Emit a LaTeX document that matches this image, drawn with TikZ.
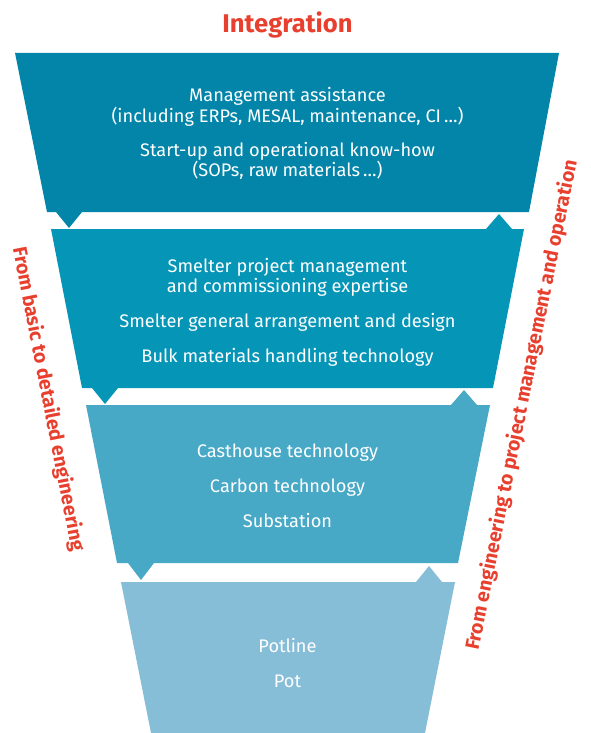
\documentclass[tikz,border=0pt]{standalone}
\usepackage{fontspec}
\setmainfont{Fira Sans}
\definecolor{bandA}{HTML}{0285A9}
\definecolor{bandB}{HTML}{0595B7}
\definecolor{bandC}{HTML}{48A9C7}
\definecolor{bandD}{HTML}{86BDD7}
\definecolor{accent}{HTML}{E8402F}
\begin{document}
\begin{tikzpicture}[x=1pt,y=-1pt,
  body/.style={anchor=base,text=white,inner sep=0pt,font=\fontsize{18.2}{20}\selectfont},
  side/.style={text=accent,inner sep=0pt,font=\fontsize{19.6}{22}\selectfont\bfseries},
  title/.style={anchor=base,text=accent,inner sep=0pt,font=\fontsize{25.6}{28}\selectfont\bfseries}]
\useasboundingbox (0,0) rectangle (590,733);
% bands
\fill[bandA] (15,53) -- (559,53) -- (529,212) -- (82,212) -- (69,228) -- (56,212) -- (47,212) -- cycle;
\fill[bandB] (51,229) -- (486,229) -- (499,214) -- (512,229) -- (524,229) -- (493,388) -- (118,388) -- (105,404) -- (92,388) -- (82,388) -- cycle;
\fill[bandC] (86,405) -- (451,405) -- (464,390) -- (477,405) -- (490,405) -- (458,563) -- (154,563) -- (141,580) -- (128,563) -- (117,563) -- cycle;
\fill[bandD] (121,582) -- (416,582) -- (429,566) -- (442,582) -- (455,582) -- (425,733) -- (151,733) -- cycle;
% title
\node[title] (title) at (287.5,33) {Integration};
% band texts
\node[body] (a1) at (287.5,102) {Management assistance};
\node[body] (a2) at (287.5,122) {(including ERPs, MESAL, maintenance, CI\,…)};
\node[body] (a3) at (287.5,156) {Start-up and operational know-how};
\node[body] (a4) at (287.5,176) {(SOPs, raw materials\,…)};
\node[body] (b1) at (287.5,272) {Smelter project management};
\node[body] (b2) at (287.5,292) {and commissioning expertise};
\node[body] (b3) at (287.5,327) {Smelter general arrangement and design};
\node[body] (b4) at (287.5,362) {Bulk materials handling technology};
\node[body] (c1) at (287.5,457) {Casthouse technology};
\node[body] (c2) at (287.5,492) {Carbon technology};
\node[body] (c3) at (287.5,527) {Substation};
\node[body] (d1) at (287.5,652) {Potline};
\node[body] (d2) at (287.5,687) {Pot};
% side labels
\node[side,rotate=-79] (left) at (48,399) {From basic to detailed engineering};
\node[side,rotate=78.6] (right) at (522,405) {From engineering to project management and operation};
\end{tikzpicture}
\end{document}
